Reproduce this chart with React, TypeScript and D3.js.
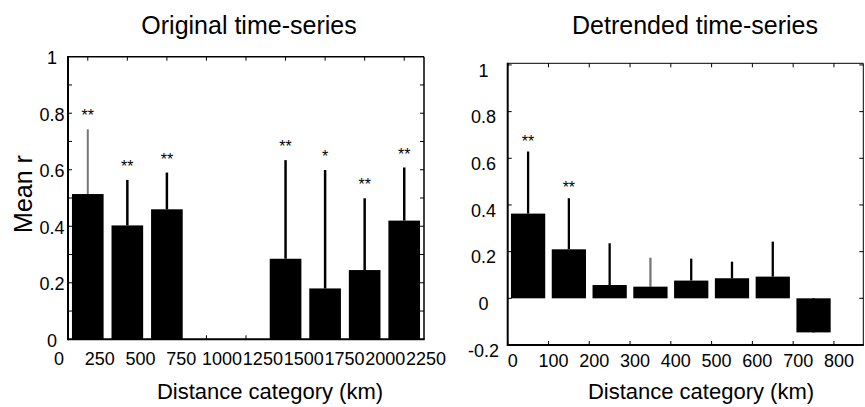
import React from "react";
import * as d3 from "d3";

// Original time-series: 9 distance classes of 250 km
const leftCats = [1, 2, 3, 4, 5, 6, 7, 8, 9];
const leftMean = [0.514, 0.403, 0.46, null, null, 0.285, 0.18, 0.245, 0.42];
const leftErr = [0.229, 0.161, 0.13, null, null, 0.349, 0.419, 0.254, 0.188];
const leftStars = ["**", "**", "**", "", "", "**", "*", "**", "**"];
const leftTickLabels = ["0", "250", "500", "750", "1000", "1250", "1500", "1750", "2000", "2250"];
const leftYTicks = [0, 0.2, 0.4, 0.6, 0.8, 1];

// Detrended time-series: 100 km classes
const rightCenters = [50, 150, 250, 350, 450, 550, 650, 750];
const rightMean = [0.363, 0.21, 0.057, 0.05, 0.076, 0.086, 0.093, -0.146];
const rightErr = [0.266, 0.219, 0.179, 0.124, 0.094, 0.071, 0.15, 0.146];
const rightStars = ["**", "**", "", "", "", "", "", ""];
const rightXTicks = [0, 100, 200, 300, 400, 500, 600, 700, 800];
const rightYTicks = [-0.2, 0, 0.2, 0.4, 0.6, 0.8, 1];

const font = "'Liberation Sans', Arial, Helvetica, sans-serif";

function LeftChart() {
  const L = 68, R = 424, T = 56.7, B = 339.3;
  const x = d3.scaleLinear().domain([0.5, 9.5]).range([L, R]);
  const y = d3.scaleLinear().domain([0, 1]).range([B, T]);
  const labelPos = d3.scalePoint<string>().domain(leftTickLabels).range([L - 9, R + 2]);
  const bw = (x(1.4) - x(0.6));
  const minor = d3.range(0.1, 1.0, 0.1);
  return (
    <g>
      {leftCats.map((c, i) => {
        const m = leftMean[i];
        if (m == null) return null;
        const e = leftErr[i] as number;
        return (
          <g key={c}>
            <line x1={x(c)} x2={x(c)} y1={y(m)} y2={y(m + e)}
              stroke={i === 0 ? "#777" : "#000"} strokeWidth={i === 0 ? 2 : 2.5} />
            <rect x={x(c) - bw / 2} y={y(m)} width={bw} height={y(0) - y(m)} fill="#000" />
            <text x={x(c)} y={y(m + e + 0.06) + 9} fontSize={16} textAnchor="middle">{leftStars[i]}</text>
          </g>
        );
      })}
      {minor.map((v) => (
        <g key={v}>
          <line x1={L} x2={L + 4} y1={y(v)} y2={y(v)} stroke="#000" />
          <line x1={R - 4} x2={R} y1={y(v)} y2={y(v)} stroke="#000" />
        </g>
      ))}
      {leftCats.map((c) => (
        <g key={"t" + c}>
          <line x1={x(c)} x2={x(c)} y1={T} y2={T + 4} stroke="#000" />
          <line x1={x(c)} x2={x(c)} y1={B} y2={B - 4} stroke="#000" />
        </g>
      ))}
      <line x1={L} x2={R} y1={T} y2={T} stroke="#000" strokeWidth={1.5} />
      <line x1={R} x2={R} y1={T} y2={B} stroke="#000" strokeWidth={1.5} />
      <line x1={L} x2={L} y1={T - 0.75} y2={B + 1} stroke="#000" strokeWidth={2} />
      <line x1={L} x2={R + 0.75} y1={B} y2={B} stroke="#000" strokeWidth={2} />
      {leftYTicks.map((v) => (
        <text key={v} x={52} y={y(v) + 1} dy="0.35em" fontSize={18} textAnchor="middle">{String(v)}</text>
      ))}
      {leftTickLabels.map((s) => (
        <text key={s} x={labelPos(s)} y={365} fontSize={18} textAnchor="middle">{s}</text>
      ))}
      <text x={249} y={33.5} fontSize={25} textAnchor="middle">Original time-series</text>
      <text x={270} y={399} fontSize={22} textAnchor="middle">Distance category (km)</text>
      <text transform={`translate(32,194) rotate(-90)`} fontSize={25} textAnchor="middle">Mean r</text>
    </g>
  );
}

function RightChart() {
  const L = 507.7, R = 863.3, T = 63.3, B = 345;
  const x = d3.scaleLinear().domain([0, 872]).range([L, R]);
  const y = d3.scaleLinear().domain([-0.2, 1.007]).range([B, T]);
  const bw = x(84) - x(0);
  return (
    <g>
      {rightCenters.map((c, i) => {
        const m = rightMean[i];
        const e = rightErr[i];
        return (
          <g key={c}>
            <line x1={x(c)} x2={x(c)} y1={y(m)} y2={y(m + e)}
              stroke={i === 3 ? "#777" : "#000"} strokeWidth={2.3} />
            <rect x={x(c) - bw / 2} y={y(Math.max(0, m))} width={bw}
              height={Math.abs(y(m) - y(0))} fill="#000" />
            <text x={x(c)} y={y(m + e + 0.06) + 9} fontSize={16} textAnchor="middle">{rightStars[i]}</text>
          </g>
        );
      })}
      {rightYTicks.map((v) => (
        <g key={"yt" + v}>
          <line x1={L} x2={L + 4} y1={y(v)} y2={y(v)} stroke="#000" />
          <line x1={R - 4} x2={R} y1={y(v)} y2={y(v)} stroke="#000" />
        </g>
      ))}
      {rightXTicks.map((v) => (
        <g key={"xt" + v}>
          <line x1={x(v)} x2={x(v)} y1={T} y2={T + 4} stroke="#000" />
          <line x1={x(v)} x2={x(v)} y1={B} y2={B - 4} stroke="#000" />
        </g>
      ))}
      <line x1={L} x2={R} y1={T} y2={T} stroke="#000" strokeWidth={1} />
      <line x1={R} x2={R} y1={T} y2={B} stroke="#000" strokeWidth={1} />
      <line x1={L} x2={L} y1={T - 0.5} y2={B + 1} stroke="#000" strokeWidth={2} />
      <line x1={L} x2={R + 0.5} y1={B} y2={B} stroke="#000" strokeWidth={2} />
      {rightYTicks.map((v) => (
        <text key={v} x={483.5} y={y(v) + 5.5} dy="0.35em" fontSize={18} textAnchor="middle">{String(v)}</text>
      ))}
      {rightXTicks.map((v) => (
        <text key={v} x={x(v) + 5} y={366.5} fontSize={18} textAnchor="middle">{String(v)}</text>
      ))}
      <text x={695} y={33.5} fontSize={25} textAnchor="middle">Detrended time-series</text>
      <text x={701} y={399} fontSize={22} textAnchor="middle">Distance category (km)</text>
    </g>
  );
}

export default function App() {
  return (
    <svg width={865} height={407} style={{ position: "absolute", left: 0, top: 0, background: "#fff" }}
      fontFamily={font}>
      <rect width={865} height={407} fill="#fff" />
      <LeftChart />
      <RightChart />
    </svg>
  );
}
